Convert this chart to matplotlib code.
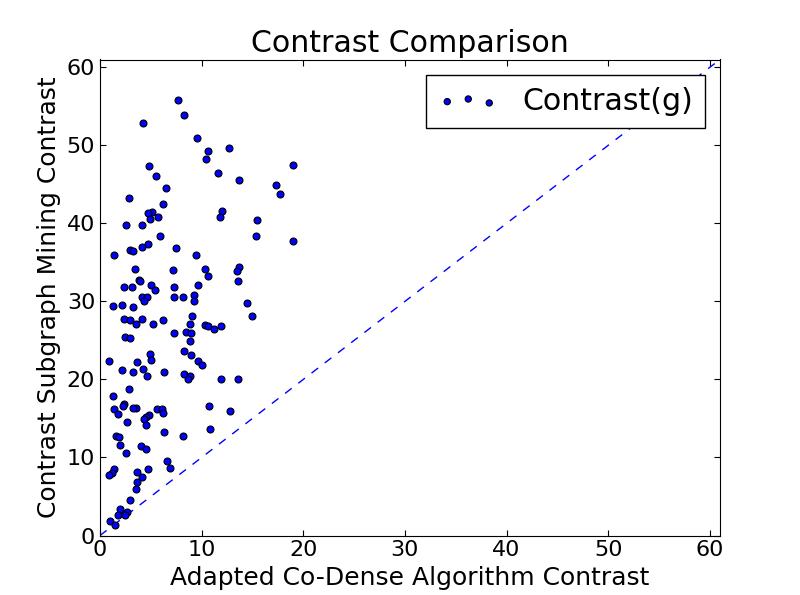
import numpy as np
import matplotlib
matplotlib.use("Agg")
import matplotlib.pyplot as plt

# values
codense = [7.7, 4.2, 8.3, 9.5, 12.7, 10.6, 10.4, 19.0, 4.8, 11.6, 5.5, 13.7, 17.3, 6.5, 17.7,
           2.9, 6.2, 12.0, 5.1, 4.7, 11.8, 5.7, 4.9, 15.4, 2.6, 4.1, 5.9, 15.3, 19.0, 4.7,
           4.1, 7.5, 3.0, 3.2, 9.4, 1.4, 13.7, 3.4, 10.3, 7.2, 13.5, 10.6, 3.8, 3.9, 13.6,
           9.6, 2.4, 3.1, 5.0, 7.3, 5.4, 4.1, 4.6, 7.3, 8.2, 9.2, 4.3, 9.2, 14.5, 3.2,
           1.3, 2.2, 15.0, 9.1, 4.1, 2.4, 3.0, 6.2, 3.5, 5.2, 8.9, 10.3, 10.6, 11.9, 11.2,
           8.5, 9.0, 7.3, 2.5, 3.0, 8.9, 8.3, 4.9, 9.0, 5.0, 3.6, 9.6, 0.9, 10.0, 4.2,
           2.2, 6.3, 3.2, 8.3, 4.6, 8.9, 8.7, 11.9, 13.6, 2.9, 1.3, 2.4, 2.3, 3.5, 1.4,
           3.2, 5.6, 6.1, 10.7, 12.8, 6.2, 4.8, 4.5, 1.8, 4.3, 2.7, 4.5, 10.8, 6.3, 8.2,
           1.6, 1.9, 2.0, 4.0, 4.5, 2.6, 6.6, 6.9, 1.4, 4.7, 3.6, 1.2, 0.9, 4.1, 3.6,
           3.5, 3.0, 2.0, 1.8, 2.7, 2.5, 1.0, 1.5]
subgraph = [55.8, 52.8, 53.9, 51.0, 49.6, 49.3, 48.3, 47.5, 47.3, 46.4, 46.1, 45.6, 44.9, 44.5, 43.8,
            43.3, 42.5, 41.6, 41.5, 41.3, 40.8, 40.8, 40.5, 40.4, 39.8, 39.8, 38.4, 38.4, 37.8, 37.4,
            37.0, 36.9, 36.6, 36.4, 35.9, 35.9, 34.4, 34.2, 34.1, 34.0, 33.9, 33.3, 32.8, 32.6, 32.6,
            32.1, 31.8, 31.8, 32.1, 31.8, 31.4, 30.6, 30.6, 30.6, 30.6, 30.8, 30.1, 30.0, 29.8, 29.3,
            29.4, 29.6, 28.1, 28.1, 27.8, 27.7, 27.6, 27.6, 27.1, 27.1, 27.1, 27.0, 26.9, 26.8, 26.4,
            26.1, 25.9, 25.9, 25.5, 25.3, 24.9, 23.7, 23.2, 23.1, 22.5, 22.2, 22.3, 22.4, 21.8, 21.4,
            21.2, 20.9, 20.9, 20.7, 20.5, 20.4, 20.1, 20.1, 20.1, 18.8, 17.9, 16.9, 16.6, 16.4, 16.2,
            16.4, 16.2, 16.2, 16.6, 16.0, 15.7, 15.4, 15.2, 15.6, 14.9, 14.6, 14.1, 13.6, 13.2, 12.8,
            12.8, 12.6, 11.6, 11.5, 11.1, 10.6, 9.6, 8.6, 8.5, 8.5, 8.1, 8.0, 7.8, 7.5, 6.9,
            6.0, 4.5, 3.4, 2.6, 3.0, 2.6, 1.9, 1.4]

lim = 61

fig = plt.figure(figsize=(8, 5.95), dpi=100, facecolor="white")
ax = fig.add_subplot(111)
fig.subplots_adjust(left=0.125, right=0.9, bottom=0.1, top=0.9)

ax.scatter(codense, subgraph, s=25, c="blue", edgecolors="black", linewidths=0.8,
           label="Contrast(g)", zorder=3)
ax.plot([0, lim], [0, lim], color="blue", linestyle=(0, (6, 6)), linewidth=1)

ax.set_xlim(0, lim)
ax.set_ylim(0, lim)
ax.set_xticks(np.arange(0, 61, 10))
ax.set_yticks(np.arange(0, 61, 10))
ax.tick_params(direction="in", top=True, right=True, labelsize=16, length=4)

ax.set_title("Contrast Comparison", fontsize=21.6, pad=5.5)
ax.set_xlabel("Adapted Co-Dense Algorithm Contrast", fontsize=18)
ax.set_ylabel("Contrast Subgraph Mining Contrast", fontsize=18)

leg = ax.legend(loc="upper right", scatterpoints=3, fontsize=21.6, fancybox=False,
                framealpha=1, borderpad=0.4, handlelength=2.0, handletextpad=0.8,
                borderaxespad=0.5, markerscale=0.9)
leg.get_frame().set_edgecolor("black")

fig.savefig("out.png", dpi=100, facecolor="white")
